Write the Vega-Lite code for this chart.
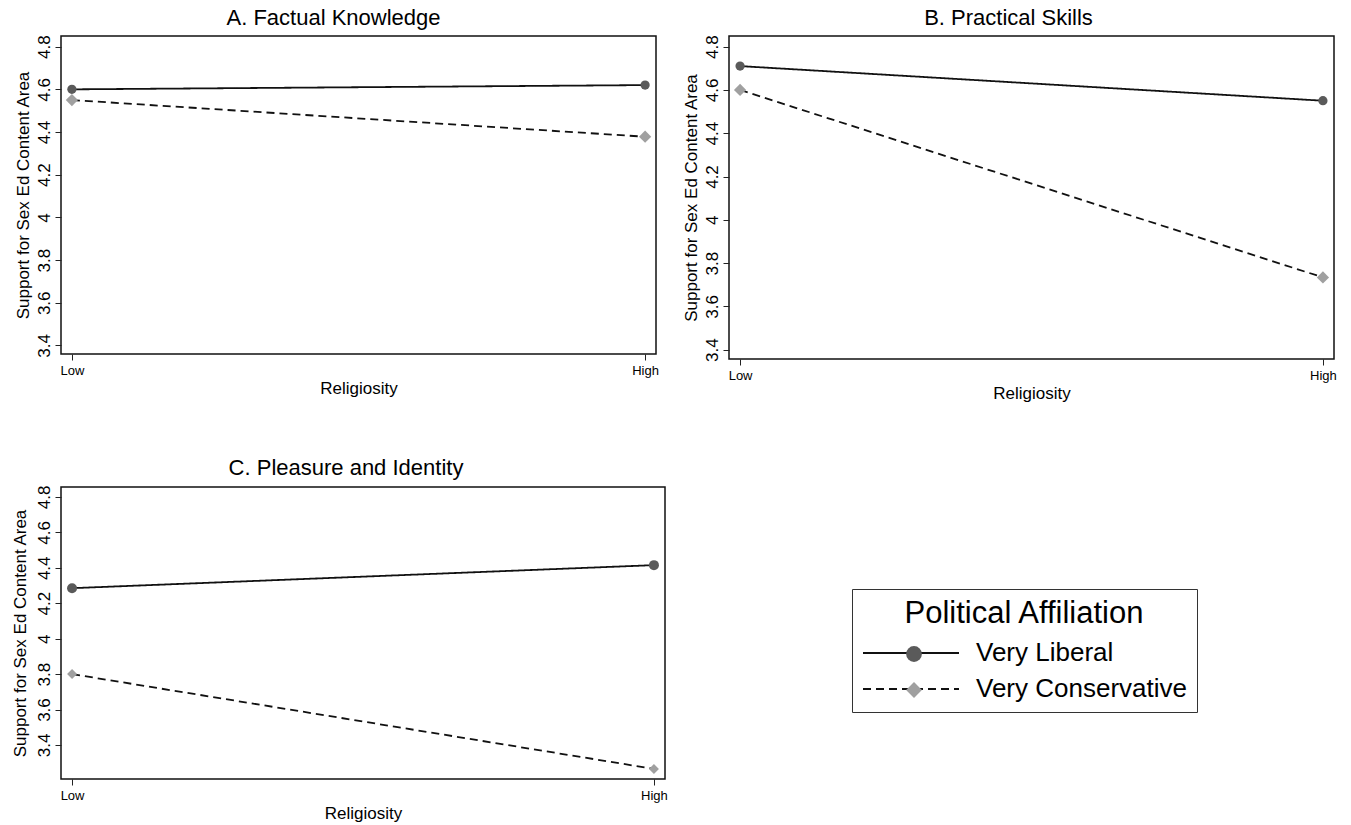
{
  "$schema": "https://vega.github.io/schema/vega-lite/v6.json",
  "background": "white",
  "padding": {"left": 10, "top": 6, "right": 5, "bottom": 5},
  "datasets": {
    "d": [
      {"panel": "A", "religiosity": "Low", "affiliation": "Very Liberal", "support": 4.60},
      {"panel": "A", "religiosity": "High", "affiliation": "Very Liberal", "support": 4.62},
      {"panel": "A", "religiosity": "Low", "affiliation": "Very Conservative", "support": 4.55},
      {"panel": "A", "religiosity": "High", "affiliation": "Very Conservative", "support": 4.378},
      {"panel": "B", "religiosity": "Low", "affiliation": "Very Liberal", "support": 4.71},
      {"panel": "B", "religiosity": "High", "affiliation": "Very Liberal", "support": 4.55},
      {"panel": "B", "religiosity": "Low", "affiliation": "Very Conservative", "support": 4.60},
      {"panel": "B", "religiosity": "High", "affiliation": "Very Conservative", "support": 3.734},
      {"panel": "C", "religiosity": "Low", "affiliation": "Very Liberal", "support": 4.285},
      {"panel": "C", "religiosity": "High", "affiliation": "Very Liberal", "support": 4.415},
      {"panel": "C", "religiosity": "Low", "affiliation": "Very Conservative", "support": 3.80},
      {"panel": "C", "religiosity": "High", "affiliation": "Very Conservative", "support": 3.265}
    ]
  },
  "config": {
    "font": "Liberation Sans",
    "view": {"stroke": "#111", "strokeWidth": 1.5},
    "title": {"fontSize": 22, "fontWeight": "normal", "color": "#000", "font": "Liberation Sans", "offset": 5, "frame": "group", "anchor": "middle"},
    "axis": {
      "grid": false, "domain": false, "tickColor": "#222", "tickSize": 6, "labelColor": "#000", "titleColor": "#000",
      "titleFontWeight": "normal", "titleFont": "Liberation Sans", "labelFont": "Liberation Sans"
    }
  },
  "resolve": {"scale": {"strokeDash": "independent", "shape": "independent", "color": "independent", "size": "independent", "x": "independent", "y": "independent"}},
  "spacing": 54,
  "vconcat": [
    {
      "hconcat": [
        {
          "width": 595, "height": 318,
          "title": {"text": "A. Factual Knowledge", "dx": -25},
          "data": {"name": "d"},
          "transform": [{"filter": "datum.panel === 'A'"}],
          "encoding": {
            "x": {"field": "religiosity", "type": "ordinal", "sort": ["Low", "High"], "scale": {"type": "point", "padding": 0.019},
              "axis": {"title": "Religiosity", "labelAngle": 0, "labelFontSize": 13, "titleFontSize": 17, "labelPadding": 4, "titlePadding": 3}},
            "y": {"field": "support", "type": "quantitative", "scale": {"domain": [3.36, 4.85], "nice": false, "zero": false},
              "axis": {"title": "Support for Sex Ed Content Area", "values": [3.4, 3.6, 3.8, 4, 4.2, 4.4, 4.6, 4.8], "format": "~g", "labelAngle": -90, "labelAlign": "center", "labelBaseline": "bottom", "labelFontSize": 17, "titleFontSize": 17, "labelPadding": 2, "titlePadding": 3}}
          },
          "layer": [
            {"mark": {"type": "line", "color": "#111", "strokeWidth": 1.8},
              "encoding": {"strokeDash": {"field": "affiliation", "type": "nominal", "sort": ["Very Liberal", "Very Conservative"], "scale": {"range": [[1, 0], [8, 5]]}, "legend": null}}},
            {"mark": {"type": "point", "filled": true, "opacity": 1},
              "encoding": {
                "shape": {"field": "affiliation", "type": "nominal", "scale": {"domain": ["Very Liberal", "Very Conservative"], "range": ["circle", "diamond"]}, "legend": null},
                "color": {"field": "affiliation", "type": "nominal", "scale": {"domain": ["Very Liberal", "Very Conservative"], "range": ["#5a5a5a", "#a0a0a0"]}, "legend": null},
                "size": {"field": "affiliation", "type": "nominal", "scale": {"domain": ["Very Liberal", "Very Conservative"], "range": [85, 150]}, "legend": null}
              }}
          ]
        },
        {
          "width": 605, "height": 323,
          "title": {"text": "B. Practical Skills", "dx": -23},
          "data": {"name": "d"},
          "transform": [{"filter": "datum.panel === 'B'"}],
          "encoding": {
            "x": {"field": "religiosity", "type": "ordinal", "sort": ["Low", "High"], "scale": {"type": "point", "padding": 0.019},
              "axis": {"title": "Religiosity", "labelAngle": 0, "labelFontSize": 13, "titleFontSize": 17, "labelPadding": 4, "titlePadding": 3}},
            "y": {"field": "support", "type": "quantitative", "scale": {"domain": [3.357, 4.849], "nice": false, "zero": false},
              "axis": {"title": "Support for Sex Ed Content Area", "values": [3.4, 3.6, 3.8, 4, 4.2, 4.4, 4.6, 4.8], "format": "~g", "labelAngle": -90, "labelAlign": "center", "labelBaseline": "bottom", "labelFontSize": 17, "titleFontSize": 17, "labelPadding": 2, "titlePadding": 3}}
          },
          "layer": [
            {"mark": {"type": "line", "color": "#111", "strokeWidth": 1.8},
              "encoding": {"strokeDash": {"field": "affiliation", "type": "nominal", "sort": ["Very Liberal", "Very Conservative"], "scale": {"range": [[1, 0], [8, 5]]}, "legend": null}}},
            {"mark": {"type": "point", "filled": true, "opacity": 1},
              "encoding": {
                "shape": {"field": "affiliation", "type": "nominal", "scale": {"domain": ["Very Liberal", "Very Conservative"], "range": ["circle", "diamond"]}, "legend": null},
                "color": {"field": "affiliation", "type": "nominal", "scale": {"domain": ["Very Liberal", "Very Conservative"], "range": ["#5a5a5a", "#a0a0a0"]}, "legend": null},
                "size": {"field": "affiliation", "type": "nominal", "scale": {"domain": ["Very Liberal", "Very Conservative"], "range": [85, 150]}, "legend": null}
              }}
          ]
        }
      ],
      "spacing": 21,
      "resolve": {"scale": {"strokeDash": "independent", "shape": "independent", "color": "independent", "size": "independent", "x": "independent", "y": "independent"}}
    },
    {
      "width": 604, "height": 292,
      "title": {"text": "C. Pleasure and Identity", "dx": -17},
      "data": {"name": "d"},
      "transform": [{"filter": "datum.panel === 'C'"}],
      "encoding": {
        "x": {"field": "religiosity", "type": "ordinal", "sort": ["Low", "High"], "scale": {"type": "point", "padding": 0.019},
          "axis": {"title": "Religiosity", "labelAngle": 0, "labelFontSize": 13, "titleFontSize": 17, "labelPadding": 4, "titlePadding": 3}},
        "y": {"field": "support", "type": "quantitative", "scale": {"domain": [3.208, 4.856], "nice": false, "zero": false},
          "axis": {"title": "Support for Sex Ed Content Area", "values": [3.4, 3.6, 3.8, 4, 4.2, 4.4, 4.6, 4.8], "format": "~g", "labelAngle": -90, "labelAlign": "center", "labelBaseline": "bottom", "labelFontSize": 17, "titleFontSize": 17, "labelPadding": 2, "titlePadding": 6}}
      },
      "layer": [
        {"mark": {"type": "line", "color": "#111", "strokeWidth": 1.8},
          "encoding": {"strokeDash": {"field": "affiliation", "type": "nominal", "sort": ["Very Liberal", "Very Conservative"], "scale": {"range": [[1, 0], [8, 5]]},
            "legend": {"orient": "none", "legendX": 791, "legendY": 102, "title": "Political Affiliation", "titleFontSize": 31, "titleFontWeight": "normal", "titleColor": "#000", "titleAnchor": "middle", "titleLimit": 600,
              "labelFontSize": 26, "labelColor": "#000", "labelLimit": 400, "symbolType": "M-4,0H4", "symbolSize": 576, "symbolStrokeColor": "#111", "symbolStrokeWidth": 1.8, "symbolOffset": 36, "labelOffset": 52,
              "strokeColor": "#333", "padding": 10, "rowPadding": 10, "titlePadding": 10}}}},
        {"mark": {"type": "point", "filled": true, "opacity": 1, "size": 100},
          "encoding": {
            "shape": {"field": "affiliation", "type": "nominal", "scale": {"domain": ["Very Liberal", "Very Conservative"], "range": ["circle", "diamond"]},
              "legend": {"orient": "none", "legendX": 830, "legendY": 144, "title": null, "labelExpr": "''", "labelFontSize": 26, "symbolSize": 250, "symbolStrokeWidth": 0, "padding": 10, "rowPadding": 10}},
            "color": {"field": "affiliation", "type": "nominal", "scale": {"domain": ["Very Liberal", "Very Conservative"], "range": ["#5a5a5a", "#a0a0a0"]},
              "legend": {"orient": "none", "legendX": 830, "legendY": 144, "title": null, "labelExpr": "''", "labelFontSize": 26, "symbolSize": 250, "symbolStrokeWidth": 0, "padding": 10, "rowPadding": 10}}
          }}
      ]
    }
  ]
}
